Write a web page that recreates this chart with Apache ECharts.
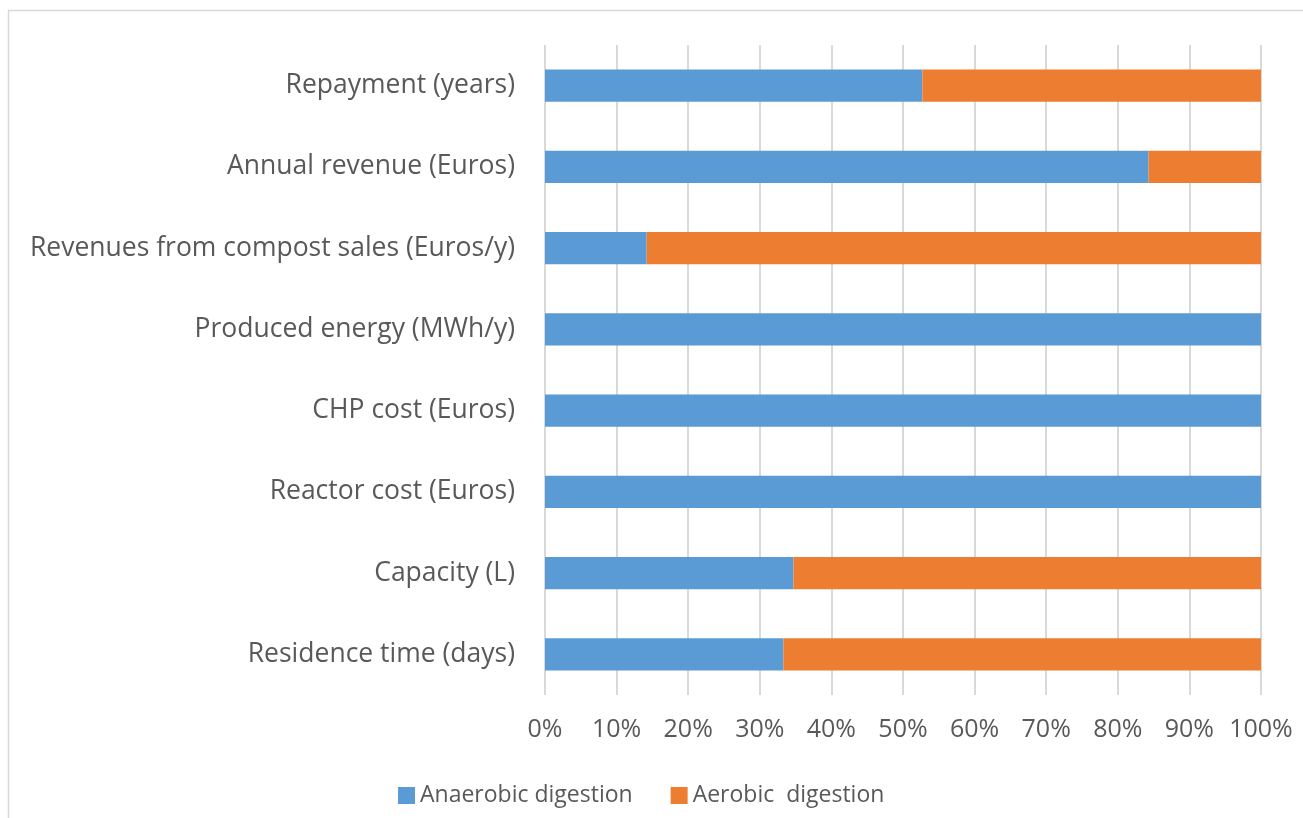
<!DOCTYPE html>
<html>
<head>
<meta charset="utf-8">
<script src="https://cdn.jsdelivr.net/npm/echarts@6/dist/echarts.min.js"></script>
<style>
  html, body { margin: 0; padding: 0; background: #fff; }
  #chart { width: 1303px; height: 818px; }
</style>
</head>
<body>
<div id="chart"></div>
<script>
// categories, bottom to top
const categories = [
  'Residence time (days)',
  'Capacity (L)',
  'Reactor cost (Euros)',
  'CHP cost (Euros)',
  'Produced energy (MWh/y)',
  'Revenues from compost sales (Euros/y)',
  'Annual revenue (Euros)',
  'Repayment (years)'
]
const anaerobic = [33.3, 34.7, 100, 100, 100, 14.2, 84.3, 52.7]
const aerobic = [66.7, 65.3, 0, 0, 0, 85.8, 15.7, 47.3]
const seriesNames = ['Anaerobic digestion', 'Aerobic  digestion']

const font = '"Open Sans", sans-serif'
const chart = echarts.init(document.getElementById('chart'))

chart.setOption({
  animation: false,
  backgroundColor: '#fff',
  graphic: [{
    type: 'rect',
    shape: { x: 8.5, y: 10.5, width: 1400, height: 900 },
    style: { fill: 'none', stroke: '#d9d9d9', lineWidth: 1.5 },
    silent: true
  }],
  legend: {
    bottom: 6,
    left: 393,
    itemWidth: 17,
    itemHeight: 17,
    itemGap: 38,
    icon: 'rect',
    textStyle: { color: '#595959', fontSize: 23, fontFamily: font },
    data: seriesNames
  },
  grid: {
    left: 545,
    right: 42,
    top: 45,
    bottom: 123
  },
  xAxis: {
    type: 'value',
    min: 0,
    max: 100,
    interval: 10,
    axisLine: { show: false },
    axisTick: { show: false },
    splitLine: { lineStyle: { color: '#d9d9d9', width: 2 } },
    axisLabel: {
      formatter: '{value}%',
      color: '#595959',
      fontSize: 25,
      fontFamily: font,
      margin: 22
    }
  },
  yAxis: {
    type: 'category',
    data: categories,
    axisLine: { show: false },
    axisTick: { show: false },
    axisLabel: {
      color: '#595959',
      fontSize: 26.5,
      fontFamily: font,
      margin: 30
    }
  },
  series: [
    {
      name: seriesNames[0],
      type: 'bar',
      stack: 'total',
      barWidth: '39.4%',
      itemStyle: { color: '#5b9bd5' },
      data: anaerobic
    },
    {
      name: seriesNames[1],
      type: 'bar',
      stack: 'total',
      barWidth: '39.4%',
      itemStyle: { color: '#ed7d31' },
      data: aerobic
    }
  ]
})
</script>
</body>
</html>
